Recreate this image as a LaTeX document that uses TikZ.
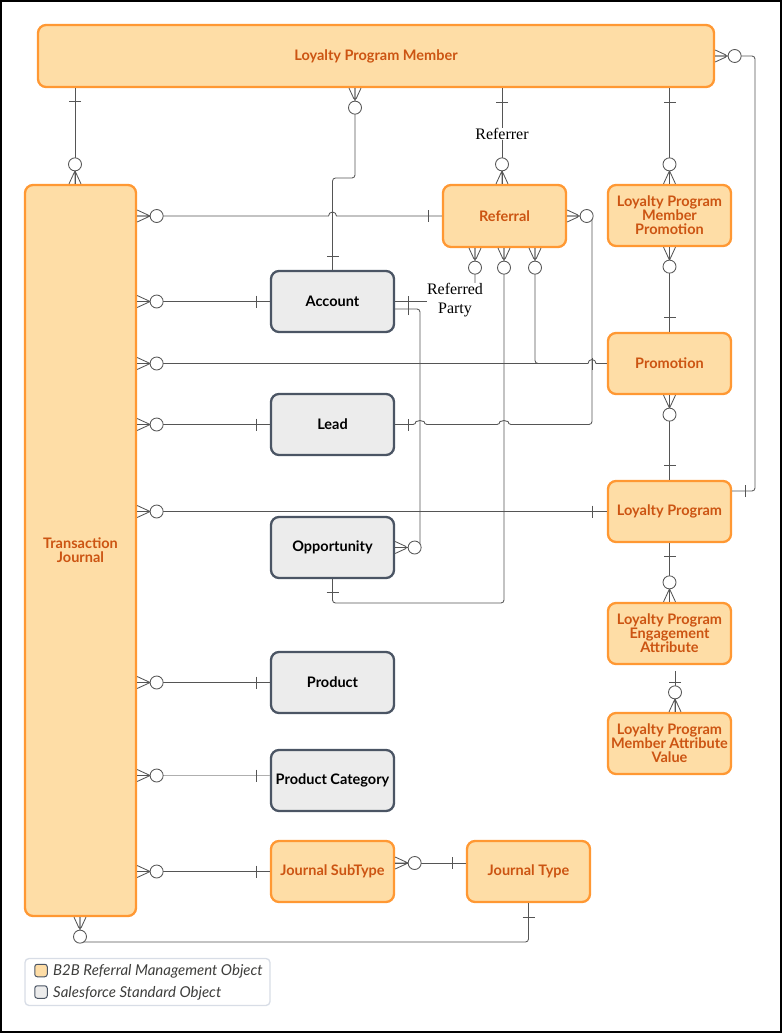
\documentclass[tikz,border=0pt]{standalone}
\usepackage{fontspec}
\setmainfont{Lato}
\newfontfamily\serifl{Liberation Serif}
\usetikzlibrary{decorations.markings,calc}
\definecolor{fillO}{RGB}{254,221,166}
\definecolor{bordO}{RGB}{255,152,51}
\definecolor{textO}{RGB}{204,84,18}
\definecolor{fillG}{RGB}{236,236,236}
\definecolor{bordG}{RGB}{75,85,100}
\definecolor{lc}{RGB}{85,85,85}
\definecolor{lcl}{RGB}{175,175,175}
\definecolor{legB}{RGB}{216,221,230}
\definecolor{legT}{RGB}{62,62,60}
\newcommand\crowzero{\draw[conn] (0,-6)--(13,0)--(0,6) (0,0)--(13,0); \draw[conn,fill=white] (19.5,0) circle[radius=6.5];}
\tikzset{
  conn/.style={draw=lc, line width=0.85},
  mk/.style={postaction={decorate,decoration={markings,#1}}},
  mzS/.style={mk={mark=at position 0 with {\crowzero}}},
  mzE/.style={mk={mark=at position 1 with {\begin{scope}[xscale=-1]\crowzero\end{scope}}}},
  oneS/.style={mk={mark=at position 0 with {\draw[conn] (#1,-6)--(#1,6);}}},
  oneS/.default=13,
  oneE/.style={mk={mark=at position 1 with {\draw[conn] (-#1,-6)--(-#1,6);}}},
  oneE/.default=13,
  ent/.style={rounded corners=8, line width=2.3, align=center, inner sep=2, font=\fontsize{14.5}{14}\selectfont\bfseries},
  obox/.style={ent, draw=bordO, fill=fillO, text=textO},
  gbox/.style={ent, draw=bordG, fill=fillG, text=black},
  rlab/.style={font=\serifl\fontsize{16}{19}\selectfont, fill=white, inner sep=0.5, align=center},
  legtxt/.style={font=\fontsize{15}{16}\selectfont\itshape, text=legT, inner sep=1, anchor=west},
  legsq/.style={draw=bordG, rounded corners=2.5, line width=1, minimum size=12.5, inner sep=0},
}
\begin{document}
\begin{tikzpicture}[x=1pt,y=-1pt]
\useasboundingbox (0,0) rectangle (782,1033);
\draw[line width=1.6] (0.8,0.8) rectangle (781.2,1032.2);
% entities
\node[obox, minimum width=676, minimum height=62] (lpm) at (376,56) {Loyalty Program Member};
\node[obox, minimum width=111, minimum height=731] (tj) at (80.5,550.5) {Transaction\\Journal};
\node[obox, minimum width=123, minimum height=62] (referral) at (504.5,216) {Referral};
\node[obox, minimum width=123, minimum height=61] (lpmp) at (669.5,215.5) {Loyalty Program\\Member\\Promotion};
\node[gbox, minimum width=123, minimum height=61] (account) at (332.5,301.5) {Account};
\node[obox, minimum width=123, minimum height=61] (promotion) at (669.5,363.5) {Promotion};
\node[gbox, minimum width=123, minimum height=61] (lead) at (332.5,424.5) {Lead};
\node[obox, minimum width=123, minimum height=61] (lp) at (669.5,511.5) {Loyalty Program};
\node[gbox, minimum width=123, minimum height=61] (opp) at (332.5,547.5) {Opportunity};
\node[obox, minimum width=123, minimum height=61] (lpea) at (669.5,633.5) {Loyalty Program\\Engagement\\Attribute};
\node[gbox, minimum width=123, minimum height=61] (product) at (332.5,682.5) {Product};
\node[obox, minimum width=123, minimum height=61] (lpmav) at (669.5,743.5) {Loyalty Program\\Member Attribute\\Value};
\node[gbox, minimum width=123, minimum height=61] (prodcat) at (332.5,780.5) {Product Category};
\node[obox, minimum width=123, minimum height=61] (jst) at (332.5,871.5) {Journal SubType};
\node[obox, minimum width=123, minimum height=61] (jt) at (528.5,871.5) {Journal Type};
% helper coordinates
\coordinate (x75) at (75,0);
\coordinate (x80) at (80,0);
\coordinate (x355) at (355,0);
\coordinate (x420) at (420,0);
\coordinate (x475) at (475,0);
\coordinate (x502) at (502,0);
\coordinate (x504) at (504,0);
\coordinate (x535) at (535,0);
\coordinate (x560) at (560,0);
\coordinate (x592) at (592,0);
\coordinate (x675) at (675,0);
\coordinate (x755) at (755,0);
\coordinate (y178) at (0,178);
\coordinate (y491) at (0,491);
\coordinate (y603) at (0,603);
\coordinate (y942) at (0,942);
\coordinate (a309) at ($(account.east)+(0,7.5)$);
\coordinate (j1) at (x560 |- promotion.west);
\coordinate (e1) at ($(lpea.south -| x675)+(0,6)$);
% connectors
\draw[conn,oneS,mzE] (lpm.south -| x75) -- (tj.north -| x75);
\draw[conn,mzS,oneE,rounded corners=3] (lpm.south -| x355) -- (x355 |- y178) -- (account.north |- y178) -- (account.north);
\draw[conn,oneS=14,mzE] (lpm.south -| x502) -- (referral.north -| x502);
\draw[conn,mzS,oneE] (tj.east |- referral.west) -- ($(account.north |- referral.west)+(-4,0)$) arc[start angle=180,end angle=360,radius=4] -- (referral.west);
\draw[conn,oneS=14,mzE] (lpm.south -| lpmp.north) -- (lpmp.north);
\draw[conn,mzS,oneE,rounded corners=3] (lpm.east) -- (x755 |- lpm.east) -- (x755 |- y491) -- (lp.east |- y491);
\draw[conn,mzS,oneE] (tj.east |- account.west) -- (account.west);
\draw[conn,mzS,oneE,rounded corners=3] (referral.south -| x475) |- (account.east);
\draw[conn,mzS,oneE,rounded corners=3] (opp.east) -- (x420 |- opp.east) -- (x420 |- a309) -- (a309);
\draw[conn,mzS,oneE=14] (tj.east |- promotion.west) -- ($(x592 |- promotion.west)+(-4,0)$) arc[start angle=180,end angle=360,radius=4] -- (promotion.west);
\draw[conn,mzS,rounded corners=3] (referral.south -| x535) |- (j1);
\draw[conn,mzS,oneE,rounded corners=3] (referral.east) -- (x592 |- referral.east) -- (x592 |- lead.east) -- ($(x504 |- lead.east)+(4,0)$) arc[start angle=0,end angle=-180,radius=4] -- ($(x420 |- lead.east)+(4,0)$) arc[start angle=0,end angle=-180,radius=4] -- (lead.east);
\draw[conn,mzS,oneE,rounded corners=3] (referral.south -| x504) -- (x504 |- y603) -- (opp.south |- y603) -- (opp.south);
\draw[conn,mzS,oneE] (tj.east |- lead.west) -- (lead.west);
\draw[conn,mzS,oneE=14] (tj.east |- lp.west) -- (lp.west);
\draw[conn,mzS,oneE=14] (lpmp.south) -- (promotion.north);
\draw[conn,mzS,oneE=14] (promotion.south) -- (lp.north);
\draw[conn,oneS,mzE] (lp.south) -- (lpea.north);
\draw[conn,oneS=11,mzE] (e1) -- (lpmav.north -| x675);
\draw[conn,mzS,oneE] (tj.east |- product.west) -- (product.west);
\draw[conn,draw=lcl,mzS,oneE] ($(tj.east |- prodcat.west)+(0,-5)$) -- ($(prodcat.west)+(0,-5)$);
\draw[conn,mzS,oneE] (tj.east |- jst.west) -- (jst.west);
\draw[conn,mzS,oneE] ($(jst.east)+(0,-8.5)$) -- ($(jt.west)+(0,-8.5)$);
\draw[conn,mzS,oneE=14,rounded corners=3] (tj.south -| x80) -- (x80 |- y942) -- (jt.south |- y942) -- (jt.south);
% role labels
\node[rlab] (referrer) at (502,134) {Referrer};
\node[rlab] (refparty) at (455,300) {Referred\\Party};
% legend
\node[draw=legB, fill=white, rounded corners=4, line width=1.3, minimum width=245, minimum height=47, inner sep=0] (legend) at (147.5,982) {};
\node[legsq, fill=fillO] (lsq1) at (41,970.5) {};
\node[legsq, fill=fillG] (lsq2) at (41,992) {};
\node[legtxt] (lt1) at (52,971.5) {B2B Referral Management Object};
\node[legtxt] (lt2) at (52,993) {Salesforce Standard Object};
\end{tikzpicture}
\end{document}
